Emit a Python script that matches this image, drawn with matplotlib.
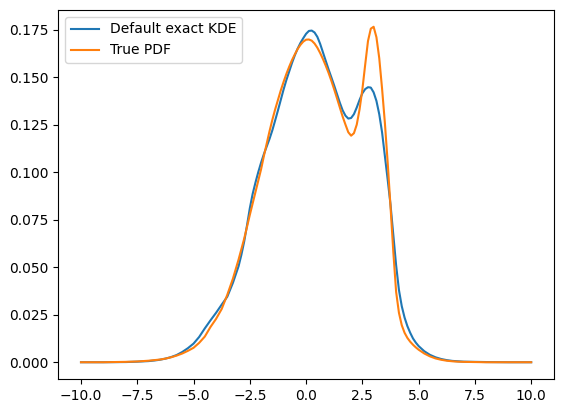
import numpy as np
import matplotlib
matplotlib.use("Agg")
import matplotlib.pyplot as plt

# ---------------------------------------- values -----#
# x positions where the two curves were read (finer steps in the middle)
x_far_left = [-10.0, -9.0, -8.0, -7.5]
x_left = list(np.arange(-7.0, -3.2, 0.25))        # -7 .. -3.25
x_centre = list(np.arange(-3.0, 5.01, 0.125))     # -3 .. 5
x_right = list(np.arange(5.25, 7.01, 0.25))       # 5.25 .. 7
x_far_right = [7.5, 8.0, 9.0, 10.0]
x_vals = x_far_left + x_left + x_centre + x_right + x_far_right

# Default exact KDE (blue)
kde_far_left = [0.0, 0.0, 0.0001, 0.0003]
kde_left = [0.0006, 0.0009, 0.0013, 0.0019, 0.0027, 0.0038, 0.0054, 0.0074,
            0.0098, 0.0133, 0.0178, 0.0220, 0.0260, 0.0303, 0.0345, 0.0418]
kde_centre = [0.0505, 0.0565, 0.0635, 0.0720, 0.0810, 0.0885, 0.0945, 0.1000,   # -3 .. -2.125
              0.1050, 0.1095, 0.1135, 0.1175, 0.1220, 0.1272, 0.1325, 0.1380,   # -2 .. -1.125
              0.1435, 0.1485, 0.1530, 0.1575, 0.1615, 0.1650, 0.1680, 0.1705,   # -1 .. -0.125
              0.1728, 0.1743, 0.1745, 0.1735, 0.1712, 0.1675, 0.1630, 0.1585,   # 0 .. 0.875
              0.1540, 0.1498, 0.1455, 0.1410, 0.1365, 0.1325, 0.1297, 0.1282,   # 1 .. 1.875
              0.1285, 0.1305, 0.1340, 0.1380, 0.1415, 0.1437, 0.1447, 0.1445,   # 2 .. 2.875
              0.1420, 0.1375, 0.1305, 0.1210, 0.1085, 0.0960, 0.0830, 0.0670,   # 3 .. 3.875
              0.0510, 0.0380, 0.0295, 0.0235, 0.0190, 0.0155, 0.0125, 0.0103,   # 4 .. 4.875
              0.0085]
kde_right = [0.0058, 0.0039, 0.0026, 0.0017, 0.0011, 0.0007, 0.0005, 0.0003]
kde_far_right = [0.0002, 0.0001, 0.0, 0.0]
kde_vals = kde_far_left + kde_left + kde_centre + kde_right + kde_far_right

# True PDF (orange)
pdf_far_left = [0.0, 0.0, 0.0002, 0.0004]
pdf_left = [0.0008, 0.0011, 0.0014, 0.0019, 0.0026, 0.0035, 0.0046, 0.0060,
            0.0076, 0.0102, 0.0135, 0.0185, 0.0228, 0.0280, 0.0355, 0.0440]
pdf_centre = [0.0540, 0.0595, 0.0650, 0.0712, 0.0775, 0.0835, 0.0895, 0.0955,   # -3 .. -2.125
              0.1015, 0.1085, 0.1150, 0.1215, 0.1275, 0.1330, 0.1380, 0.1430,   # -2 .. -1.125
              0.1475, 0.1517, 0.1555, 0.1590, 0.1620, 0.1648, 0.1670, 0.1687,   # -1 .. -0.125
              0.1697, 0.1698, 0.1692, 0.1677, 0.1655, 0.1627, 0.1595, 0.1560,   # 0 .. 0.875
              0.1522, 0.1480, 0.1435, 0.1388, 0.1340, 0.1292, 0.1250, 0.1210,   # 1 .. 1.875
              0.1192, 0.1205, 0.1250, 0.1330, 0.1435, 0.1565, 0.1690, 0.1755,   # 2 .. 2.875
              0.1765, 0.1710, 0.1600, 0.1440, 0.1260, 0.1050, 0.0820, 0.0580,   # 3 .. 3.875
              0.0370, 0.0260, 0.0195, 0.0155, 0.0128, 0.0108, 0.0092, 0.0078,   # 4 .. 4.875
              0.0066]
pdf_right = [0.0046, 0.0031, 0.0020, 0.0013, 0.0008, 0.0005, 0.0003, 0.0002]
pdf_far_right = [0.0001, 0.0, 0.0, 0.0]
pdf_vals = pdf_far_left + pdf_left + pdf_centre + pdf_right + pdf_far_right

# ---------------------------------------- plot ----------------------------#
fig, ax = plt.subplots(figsize=(5.65, 4.13), dpi=100)
fig.subplots_adjust(left=0.1035, right=0.98, bottom=0.0823, top=0.9758)

ax.plot(x_vals, kde_vals, label="Default exact KDE")
ax.plot(x_vals, pdf_vals, label="True PDF")
ax.legend(loc="upper left")

fig.savefig("out.png")
